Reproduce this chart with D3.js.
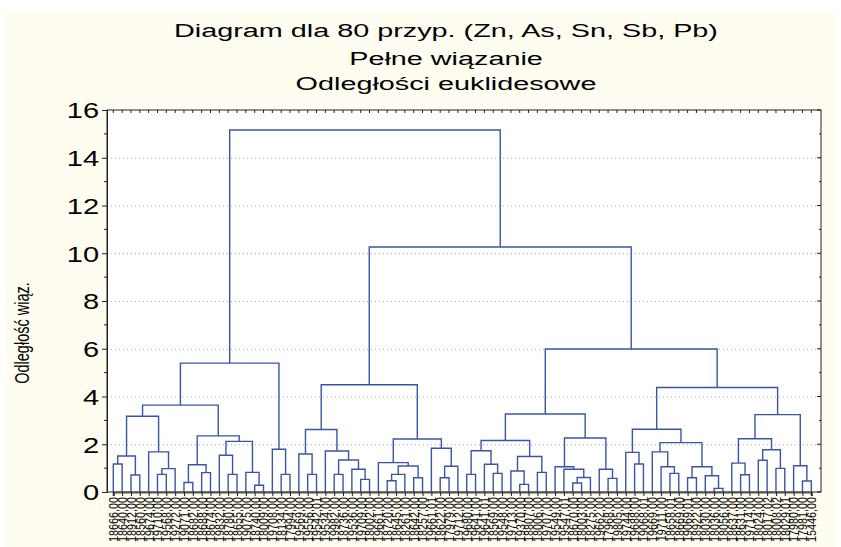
<!DOCTYPE html>
<html>
<head>
<meta charset="utf-8">
<script src="https://cdn.jsdelivr.net/npm/d3@7"></script>
<style>
  html, body { margin: 0; padding: 0; background: #ffffff; }
  svg { display: block; }
  text { font-family: "Liberation Sans", Arial, sans-serif; fill: #000; }
</style>
</head>
<body>
<svg id="chart" width="841" height="547"></svg>
<script>
// ---- chart text ----
const titleLines = [
  "Diagram dla 80 przyp. (Zn, As, Sn, Sb, Pb)",
  "Pełne wiązanie",
  "Odległości euklidesowe"
];
const yAxisTitle = "Odległość wiąz.";
const yTickValues = [0, 2, 4, 6, 8, 10, 12, 14, 16];

// ---- leaf labels, in dendrogram order ----
const leafLabels = [
  "18666,00", "18640,00", "18912,00", "18560,00", "19674,00", "19710,00", "19568,00",
  "19272,00", "19071,00", "18682,00", "18688,00", "18674,00", "19832,00", "18780,00",
  "18655,00", "19075,00", "18740,00", "18009,00", "19708,00", "18134,00", "17994,00",
  "19569,00", "19556,00", "19542,01", "19534,00", "19982,00", "18736,00", "19536,00",
  "19709,00", "18002,00", "19661,00", "18720,00", "18645,00", "18261,00", "18642,00",
  "18257,00", "19661,01", "18622,00", "17979,00", "19712,00",
  "19680,00", "19641,00", "19641,01", "18569,00", "19548,00", "19713,00", "19370,00",
  "18807,00", "18006,00", "19707,00", "19549,00", "19547,01", "18670,00", "18003,00",
  "18275,00", "19662,00", "17968,00", "19805,00",
  "19744,00", "19688,00", "19068,01", "19669,00", "19711,00", "18658,01", "18669,00",
  "19069,01", "18922,00", "18030,00", "18036,00", "18056,00", "18637,00", "18631,00",
  "19714,00", "18024,00", "18017,02", "18008,02", "18029,01", "17980,00", "17981,00",
  "15446,00"
];

// ---- linkage steps: [left, right, distance]; numbers are leaves, "mK" is step K ----
const merges = [
  [0, 1, 1.17], [2, 3, 0.71], ["m0", "m1", 1.51], [5, 6, 0.74], ["m3", 7, 0.98],
  [4, "m4", 1.68], ["m2", "m5", 3.17], [8, 9, 0.40], [10, 11, 0.81], ["m7", "m8", 1.14],
  [13, 14, 0.74], [12, "m10", 1.54], [16, 17, 0.28], [15, "m12", 0.82], ["m11", "m13", 2.12],
  ["m9", "m14", 2.35], ["m6", "m15", 3.64], [19, 20, 0.74], [18, "m17", 1.79], ["m16", "m18", 5.40],
  [22, 23, 0.74], [21, "m20", 1.59], [25, 26, 0.74], [28, 29, 0.53], [27, "m23", 0.95],
  ["m22", "m24", 1.34], [24, "m25", 1.72], ["m21", "m26", 2.62], [31, 32, 0.47], ["m28", 33, 0.74],
  [34, 35, 0.60], ["m29", "m30", 1.09], [30, "m31", 1.23], [37, 38, 0.60], ["m33", 39, 1.08],
  [36, "m34", 1.83], ["m32", "m35", 2.22], ["m27", "m36", 4.49],
  [40, 41, 0.74], [43, 44, 0.78], [42, "m39", 1.16], ["m38", "m40", 1.73], [46, 47, 0.32],
  [45, "m42", 0.88], [48, 49, 0.82], ["m43", "m44", 1.49], ["m41", "m45", 2.16], [52, 53, 0.38],
  ["m47", 54, 0.61], [51, "m48", 0.95], [50, "m49", 1.06], [56, 57, 0.57], [55, "m51", 0.95],
  ["m50", "m52", 2.26], ["m46", "m53", 3.27],
  [59, 60, 1.17], [58, "m55", 1.66], [63, 64, 0.78], [62, "m57", 1.06], [61, "m58", 1.68],
  [65, 66, 0.60], [68, 69, 0.15], [67, "m61", 0.68], ["m60", "m62", 1.06], ["m59", "m63", 2.07],
  ["m56", "m64", 2.63], [71, 72, 0.72], [70, "m66", 1.21], [73, 74, 1.33], [75, 76, 0.99],
  ["m68", "m69", 1.77], ["m67", "m70", 2.23], [78, 79, 0.46], [77, "m72", 1.10], ["m71", "m73", 3.24],
  ["m65", "m74", 4.38], ["m54", "m75", 5.99], ["m37", "m76", 10.26], ["m19", "m77", 15.16]
];

// ---- layout ----
const W = 841, H = 547;
const frame = { left: 107, right: 821, top: 110, bottom: 492 };
const lineBlue = "#3a55a8";

const svg = d3.select("#chart");

// page background with a thin white border at top/left
svg.append("rect").attr("width", W).attr("height", H).attr("fill", "#ffffff");
svg.append("rect").attr("x", 6).attr("y", 12).attr("width", W - 11).attr("height", H - 12)
  .attr("fill", "#fffdf0");
svg.append("rect")
  .attr("x", frame.left).attr("y", frame.top)
  .attr("width", frame.right - frame.left).attr("height", frame.bottom - frame.top)
  .attr("fill", "#ffffff");

// ---- tree from linkage steps ----
const stepNodes = [];
function resolve(ref) {
  if (typeof ref === "number") return { leaf: ref, height: 0 };
  return stepNodes[+ref.slice(1)];
}
merges.forEach(([a, b, h]) => {
  stepNodes.push({ height: h, children: [resolve(a), resolve(b)] });
});
const root = d3.hierarchy(stepNodes[stepNodes.length - 1]);

const x = d3.scalePoint()
  .domain(d3.range(leafLabels.length))
  .range([113.3, 811.3]);
const y = d3.scaleLinear().domain([0, 16]).range([frame.bottom, frame.top]);

root.eachAfter(n => {
  n.px = n.children ? d3.mean(n.children, c => c.px) : x(n.data.leaf);
});

// ---- grid ----
const grid = svg.append("g");
grid.selectAll("line")
  .data(yTickValues.filter(v => v > 0 && v < 16))
  .join("line")
  .attr("x1", frame.left).attr("x2", frame.right)
  .attr("y1", d => y(d) + 0.5).attr("y2", d => y(d) + 0.5)
  .attr("stroke", "#a8a8a8").attr("stroke-width", 1)
  .attr("stroke-dasharray", "1,3");

// ---- dendrogram ----
const links = svg.append("g").attr("fill", "none")
  .attr("stroke", lineBlue).attr("stroke-width", 1.4);
root.descendants().filter(n => n.children).forEach(n => {
  const [l, r] = n.children;
  const yh = y(n.data.height);
  links.append("path")
    .attr("d", `M${l.px},${y(l.data.height)}V${yh}H${r.px}V${y(r.data.height)}`);
});

// ---- frame ----
svg.append("rect")
  .attr("x", frame.left).attr("y", frame.top)
  .attr("width", frame.right - frame.left).attr("height", frame.bottom - frame.top)
  .attr("fill", "none").attr("stroke", "#222").attr("stroke-width", 1);

// top ticks (one per leaf, pointing inward)
svg.append("g").selectAll("line").data(d3.range(leafLabels.length)).join("line")
  .attr("x1", d => x(d)).attr("x2", d => x(d))
  .attr("y1", frame.top).attr("y2", frame.top + 3)
  .attr("stroke", "#222");

// right ticks (pointing inward)
svg.append("g").selectAll("line").data(d3.range(0, 17)).join("line")
  .attr("x1", frame.right).attr("x2", d => frame.right - (d % 2 ? 2 : 4))
  .attr("y1", d => y(d)).attr("y2", d => y(d))
  .attr("stroke", "#222");

// ---- y axis ----
const yAxis = svg.append("g")
  .attr("transform", `translate(${frame.left},0)`)
  .call(d3.axisLeft(y).tickValues(yTickValues).tickSize(5).tickPadding(3));
yAxis.select(".domain").attr("stroke", "#222");
yAxis.selectAll(".tick line").attr("stroke", "#222");
yAxis.selectAll(".tick text")
  .attr("font-size", 22).attr("font-family", "Liberation Sans, Arial, sans-serif")
  .attr("x", -6).attr("dy", "0.36em")
  .attr("transform", "scale(1.32,1)");
// minor ticks
svg.append("g").selectAll("line").data(d3.range(1, 16, 2)).join("line")
  .attr("x1", frame.left - 3).attr("x2", frame.left)
  .attr("y1", d => y(d)).attr("y2", d => y(d))
  .attr("stroke", "#222");

// ---- x axis ----
const xAxis = svg.append("g")
  .attr("transform", `translate(0,${frame.bottom})`)
  .call(d3.axisBottom(x).tickSize(4).tickFormat(i => leafLabels[i]));
xAxis.select(".domain").attr("stroke", "#555").attr("stroke-width", 2.2);
xAxis.selectAll(".tick line").attr("stroke", "#222");
xAxis.selectAll(".tick text")
  .attr("font-size", 10.8).attr("font-family", "Liberation Sans, Arial, sans-serif")
  .attr("text-anchor", "end")
  .attr("transform", "rotate(-90) scale(1,1.12)")
  .attr("x", -5).attr("y", 0).attr("dy", "0.36em");

// ---- titles ----
const titleY = [37, 65, 90];
titleLines.forEach((t, i) => {
  svg.append("text")
    .attr("transform", `translate(446,${titleY[i]}) scale(1.6,1)`)
    .attr("text-anchor", "middle")
    .attr("font-size", 18)
    .text(t);
});

svg.append("text")
  .attr("transform", "translate(29,333) rotate(-90) scale(1,1.35)")
  .attr("text-anchor", "middle")
  .attr("font-size", 14.5)
  .text(yAxisTitle);
</script>
</body>
</html>
